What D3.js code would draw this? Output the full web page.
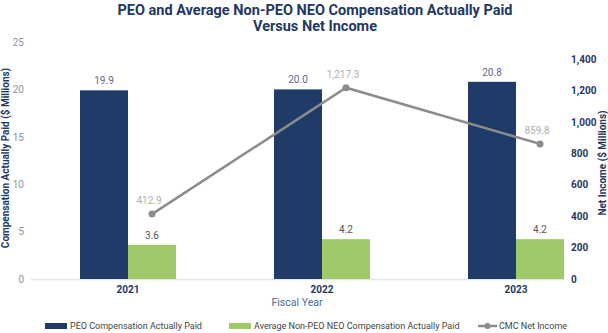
<!DOCTYPE html>
<html><head><meta charset="utf-8">
<script src="https://cdn.jsdelivr.net/npm/d3@7"></script>
<style>
body{margin:0;background:#fff;}
text{font-family:Roboto,"Open Sans",sans-serif;}
</style></head>
<body><svg id="c" width="608" height="333"></svg>
<script>
const years = ["2021","2022","2023"];
const peoComp = [19.9, 20.0, 20.8];
const neoComp = [3.6, 4.2, 4.2];
const netIncome = [412.9, 1217.3, 859.8];
const leftTicks = [0,5,10,15,20,25];
const rightTicks = [0,200,400,600,800,1000,1200,1400];

const navy = "#1f3b68", green = "#a0c96a", lineGray = "#8c8c8c", titleCol = "#1f3864";
const svg = d3.select("#c");

const plotTop = 42, plotBottom = 279;
const x = d3.scalePoint().domain(years).range([128, 516]);
const barW = 48;
const yL = d3.scaleLinear().domain([0,25]).range([plotBottom, plotTop]);
const yR = d3.scaleLinear().domain([0,1400]).range([plotBottom, 59]);

// title
svg.append("text").attr("x",315).attr("y",15).attr("text-anchor","middle")
  .attr("font-size",14.5).attr("font-weight","bold").attr("fill",titleCol)
  .text("PEO and Average Non-PEO NEO Compensation Actually Paid");
svg.append("text").attr("x",315).attr("y",31).attr("text-anchor","middle")
  .attr("font-size",14.5).attr("font-weight","bold").attr("fill",titleCol)
  .text("Versus Net Income");

// baseline
svg.append("line").attr("x1",31).attr("x2",564).attr("y1",plotBottom+0.5).attr("y2",plotBottom+0.5)
  .attr("stroke","#e6e6e6").attr("stroke-width",1.5);

// left axis
const gl = svg.append("g").attr("transform","translate(24,0)")
  .call(d3.axisLeft(yL).tickValues(leftTicks).tickSize(0).tickPadding(0));
gl.select(".domain").remove();
gl.selectAll("text").attr("font-size",10).attr("fill","#8a93a6").attr("font-family","Roboto");

// right axis
const gr = svg.append("g").attr("transform","translate(571,0)")
  .call(d3.axisRight(yR).tickValues(rightTicks).tickSize(0).tickPadding(0).tickFormat(d3.format(",")));
gr.select(".domain").remove();
gr.selectAll("text").attr("font-size",10).attr("font-weight","bold").attr("fill",titleCol).attr("font-family","Roboto");

// axis titles
svg.append("text").attr("transform","translate(9,158) rotate(-90)").attr("text-anchor","middle")
  .attr("font-size",10).attr("font-weight","bold").attr("fill",titleCol)
  .text("Compensation Actually Paid ($ Millions)");
svg.append("text").attr("transform","translate(606,163) rotate(-90)").attr("text-anchor","middle")
  .attr("font-size",10).attr("font-weight","bold").attr("fill",titleCol)
  .text("Net Income ($ Millions)");

// bars
svg.selectAll(".peo").data(years).enter().append("rect")
  .attr("x",d=>x(d)-barW).attr("width",barW)
  .attr("y",(d,i)=>yL(peoComp[i])).attr("height",(d,i)=>plotBottom-yL(peoComp[i]))
  .attr("fill",navy);
svg.selectAll(".neo").data(years).enter().append("rect")
  .attr("x",d=>x(d)).attr("width",barW)
  .attr("y",(d,i)=>yL(neoComp[i])).attr("height",(d,i)=>plotBottom-yL(neoComp[i]))
  .attr("fill",green);

// bar labels
svg.selectAll(".peol").data(years).enter().append("text")
  .attr("x",d=>x(d)-barW/2).attr("y",(d,i)=>yL(peoComp[i])-6).attr("text-anchor","middle")
  .attr("font-size",10).attr("fill","#5b6b8c").text((d,i)=>peoComp[i].toFixed(1));
svg.selectAll(".neol").data(years).enter().append("text")
  .attr("x",d=>x(d)+barW/2).attr("y",(d,i)=>yL(neoComp[i])-6).attr("text-anchor","middle")
  .attr("font-size",10).attr("fill","#555").text((d,i)=>neoComp[i].toFixed(1));

// line
const line = d3.line().x((d,i)=>x(years[i])+barW/2).y(d=>yR(d));
svg.append("path").datum(netIncome).attr("d",line).attr("fill","none")
  .attr("stroke",lineGray).attr("stroke-width",2.5);
svg.selectAll(".pt").data(netIncome).enter().append("circle")
  .attr("cx",(d,i)=>x(years[i])+barW/2).attr("cy",d=>yR(d)).attr("r",3.5).attr("fill",lineGray);
svg.selectAll(".ptl").data(netIncome).enter().append("text")
  .attr("x",(d,i)=>x(years[i])+barW/2-3).attr("y",d=>yR(d)-10).attr("text-anchor","middle")
  .attr("font-size",10).attr("fill","#b0b0b0").text(d=>d3.format(",.1f")(d));

// x labels
svg.selectAll(".xl").data(years).enter().append("text")
  .attr("x",d=>x(d)).attr("y",293).attr("text-anchor","middle")
  .attr("font-size",10).attr("font-weight","bold").attr("fill",titleCol).text(d=>d);
svg.append("text").attr("x",297).attr("y",306).attr("text-anchor","middle")
  .attr("font-size",10.5).attr("fill","#4d6a99").text("Fiscal Year");

// legend
const lg = svg.append("g").attr("font-size",9).attr("fill","#444");
lg.append("rect").attr("x",45).attr("y",323).attr("width",22).attr("height",6).attr("fill",navy);
lg.append("text").attr("x",70).attr("y",329).text("PEO Compensation Actually Paid");
lg.append("rect").attr("x",229).attr("y",323).attr("width",22).attr("height",6).attr("fill",green);
lg.append("text").attr("x",254).attr("y",329).text("Average Non-PEO NEO Compensation Actually Paid");
lg.append("line").attr("x1",478).attr("x2",497).attr("y1",326).attr("y2",326).attr("stroke",lineGray).attr("stroke-width",2.5);
lg.append("circle").attr("cx",487.5).attr("cy",326).attr("r",3).attr("fill",lineGray);
lg.append("text").attr("x",499).attr("y",329).text("CMC Net Income");
</script></body></html>
